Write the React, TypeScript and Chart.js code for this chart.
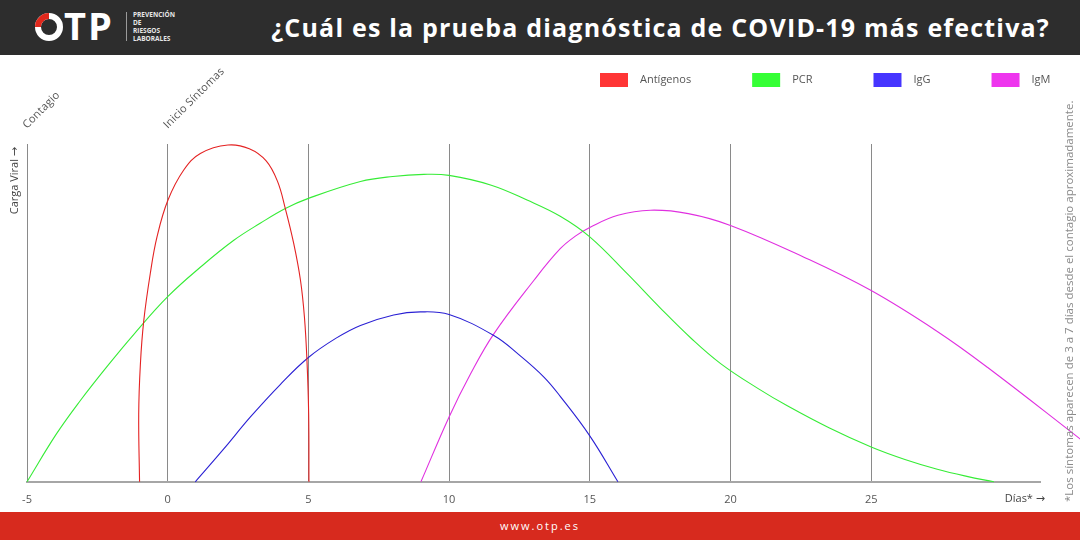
import React, { useEffect, useRef } from 'react';
import { Chart, registerables } from 'chart.js';

Chart.register(...registerables);

// ---- data ----
const seriesNames = ['Antígenos', 'PCR', 'IgG', 'IgM'];
const lineColors = ['#e42222', '#36ec36', '#2a20d4', '#e030e0'];
const legendColors = ['#ff3535', '#35ff35', '#4635ff', '#ee35ee'];

const antigenosDays = [-1.0, -1.03, -0.97, -0.85, -0.62, -0.38, 0.01, 0.57, 1.16, 2.14, 2.9, 3.5, 3.9, 4.18, 4.48, 4.72, 4.86, 4.95, 5.01, 5.02];
const antigenosLoad = [0, 20, 34.9, 47.7, 61.6, 72.5, 83.4, 92.3, 97.2, 99.7, 98.6, 95.0, 89.0, 80.9, 70.5, 59.6, 48.7, 35.8, 20, 0];

const pcrDays = [-5, -3.96, -3.11, -2.13, -1.21, 0, 1.2, 2.35, 3.3, 4.18, 5, 6.85, 8, 9.1, 10, 11.5, 12.77, 13.95, 15, 16.33, 17.5, 18.6, 19.65, 21, 22.02, 23.5, 25, 26.2, 27.35, 28.4, 29.36];
const pcrLoad = [0, 14.1, 24.0, 34.4, 43.6, 54.8, 63.8, 71.5, 76.6, 80.9, 83.9, 88.9, 90.4, 91.0, 90.7, 87.8, 83.4, 78.6, 72.5, 61.6, 51.5, 42.5, 35.0, 27.5, 22.5, 16.0, 10.3, 6.6, 3.7, 1.6, 0];

const iggDays = [0.98, 2.0, 2.94, 4.0, 5, 6.0, 6.85, 8.03, 8.98, 10, 11.59, 12.5, 13.37, 13.95, 15, 16.0];
const iggLoad = [0, 9.8, 19.2, 28.8, 36.8, 42.6, 46.3, 49.4, 50.3, 49.5, 43.3, 37.5, 31.0, 25.3, 13.6, 0];

const igmDays = [9.0, 10, 10.76, 11.59, 13.01, 13.95, 14.5, 15, 16, 17.16, 18.5, 20, 22.61, 25, 27.35, 29.13, 32.44];
const igmLoad = [0, 19.2, 31.9, 43.8, 59.6, 69.0, 72.8, 75.3, 78.9, 80.4, 79.4, 75.9, 66.5, 56.6, 44.5, 33.9, 12.6];

const xTickValues = [-5, 0, 5, 10, 15, 20, 25];
const eventDays = [-5, 0];
const eventLabels = ['Contagio', 'Inicio Síntomas'];

const titleText = '¿Cuál es la prueba diagnóstica de COVID-19 más efectiva?';
const yTitle = 'Carga Viral →';
const xTitle = 'Días* →';
const noteText = '*Los síntomas aparecen de 3 a 7 días desde el contagio aproximadamente.';
const footerText = 'www.otp.es';
const logoLines = ['PREVENCIÓN', 'DE', 'RIESGOS', 'LABORALES'];

const FONT = '"Open Sans", "DejaVu Sans", sans-serif';

function toPoints(xs: number[], ys: number[]) {
  return xs.map((x, i) => ({ x, y: ys[i] }));
}

const overlayPlugin = {
  id: 'overlayTexts',
  afterDraw(chart: any) {
    const { ctx, chartArea, scales } = chart;
    const xs = scales.x;
    ctx.save();

    // event labels (rotated 45°)
    ctx.font = `11px ${FONT}`;
    (ctx as any).letterSpacing = '0.2px';
    ctx.fillStyle = '#555';
    ctx.textAlign = 'left';
    ctx.textBaseline = 'alphabetic';
    eventDays.forEach((d, i) => {
      const px = xs.getPixelForValue(d);
      ctx.save();
      ctx.translate(px, chartArea.top - 15);
      ctx.rotate(-Math.PI / 4);
      ctx.fillText(eventLabels[i], 0, 0);
      ctx.restore();
    });
    (ctx as any).letterSpacing = '0px';

    // y title
    ctx.save();
    ctx.font = `11px ${FONT}`;
    ctx.fillStyle = '#444';
    ctx.translate(15, chartArea.top + 3);
    ctx.rotate(-Math.PI / 2);
    ctx.textAlign = 'right';
    ctx.textBaseline = 'middle';
    ctx.fillText(yTitle, 0, 0);
    ctx.restore();

    // x title
    ctx.font = `11px ${FONT}`;
    ctx.fillStyle = '#444';
    ctx.textAlign = 'right';
    ctx.textBaseline = 'middle';
    ctx.fillText(xTitle, 1045, chartArea.bottom + 17);

    // side note
    ctx.save();
    ctx.font = `11.5px ${FONT}`;
    ctx.fillStyle = '#8a8a8a';
    ctx.translate(1070, 447);
    ctx.rotate(-Math.PI / 2);
    ctx.textAlign = 'left';
    ctx.textBaseline = 'middle';
    ctx.fillText(noteText, 0, 0);
    ctx.restore();

    // legend
    ctx.font = `11px ${FONT}`;
    ctx.textAlign = 'left';
    ctx.textBaseline = 'middle';
    let cx = 600;
    const cy = 25;
    seriesNames.forEach((name, i) => {
      ctx.fillStyle = legendColors[i];
      ctx.fillRect(cx, cy - 7, 28, 14);
      ctx.fillStyle = '#555';
      ctx.fillText(name, cx + 40, cy);
      cx += 40 + ctx.measureText(name).width + 61;
    });

    ctx.restore();
  },
};

export default function App() {
  const canvasRef = useRef<HTMLCanvasElement | null>(null);

  useEffect(() => {
    if (!canvasRef.current) return;
    const series = [
      { d: antigenosDays, v: antigenosLoad },
      { d: pcrDays, v: pcrLoad },
      { d: iggDays, v: iggLoad },
      { d: igmDays, v: igmLoad },
    ];
    const datasets = series.map((s, i) => ({
      label: seriesNames[i],
      data: toPoints(s.d, s.v),
      borderColor: lineColors[i],
      backgroundColor: lineColors[i],
      borderWidth: 1.1,
      pointRadius: 0,
      fill: false,
      tension: 0.4,
      cubicInterpolationMode: 'default',
      clip: false,
    }));

    const chart = new Chart(canvasRef.current, {
      type: 'line',
      data: { datasets: datasets as any },
      options: {
        animation: false,
        responsive: false,
        maintainAspectRatio: false,
        layout: { padding: { top: 89, left: 27, right: 40, bottom: 8 } },
        elements: { line: { capBezierPoints: false } },
        plugins: {
          legend: { display: false },
          tooltip: { enabled: false },
          title: { display: false },
        },
        scales: {
          x: {
            type: 'linear',
            min: -5,
            max: 31,
            afterBuildTicks: (scale: any) => {
              scale.ticks = xTickValues.map((v) => ({ value: v }));
            },
            grid: { color: '#8a8a8a', lineWidth: 1, drawTicks: false },
            border: { display: true, color: '#a6a6a6', width: 2 },
            ticks: {
              color: '#555',
              font: { family: FONT, size: 11 },
              padding: 11,
              maxRotation: 0,
              autoSkip: false,
            },
          },
          y: { display: false, min: 0, max: 100 },
        },
      },
      plugins: [overlayPlugin],
    } as any);
    return () => chart.destroy();
  }, []);

  return (
    <div style={{ position: 'absolute', left: 0, top: 0, width: 1080, height: 540, background: '#fff', overflow: 'hidden', fontFamily: FONT }}>
      <canvas ref={canvasRef} width={1080} height={470} style={{ position: 'absolute', left: 0, top: 55, width: 1080, height: 470 }} />
      <div style={{ position: 'absolute', left: 0, top: 0, width: 1080, height: 55, background: '#2d2d2d' }}>
        <div style={{ position: 'absolute', left: 35, top: 13, width: 28, height: 28, boxSizing: 'border-box', border: '6px solid #fff', borderRadius: '50%' }} />
        <div style={{ position: 'absolute', left: 35, top: 13, width: 28, height: 28, boxSizing: 'border-box', border: '6px solid transparent', borderTopColor: '#e0281c', borderRadius: '50%', transform: 'rotate(-45deg)' }} />
        <div style={{ position: 'absolute', left: 64, top: 6, fontSize: 38, lineHeight: '38px', fontWeight: 700, color: '#fff', letterSpacing: 2 }}>TP</div>
        <div style={{ position: 'absolute', left: 126, top: 12, width: 1, height: 29, background: '#9a9a9a' }} />
        <div style={{ position: 'absolute', left: 133, top: 11, fontSize: 6.5, lineHeight: '8px', fontWeight: 700, color: '#e6e6e6' }}>
          {logoLines.map((l) => (
            <div key={l}>{l}</div>
          ))}
        </div>
        <div style={{ position: 'absolute', right: 30, top: 0, height: 55, lineHeight: '55px', fontSize: 25, fontWeight: 700, letterSpacing: 1.2, color: '#fff', whiteSpace: 'nowrap' }}>
          {titleText}
        </div>
      </div>
      <div style={{ position: 'absolute', left: 0, top: 512, width: 1080, height: 28, background: '#d72a1e', color: '#fff', textAlign: 'center', fontSize: 11, lineHeight: '28px', letterSpacing: 2 }}>
        {footerText}
      </div>
    </div>
  );
}
